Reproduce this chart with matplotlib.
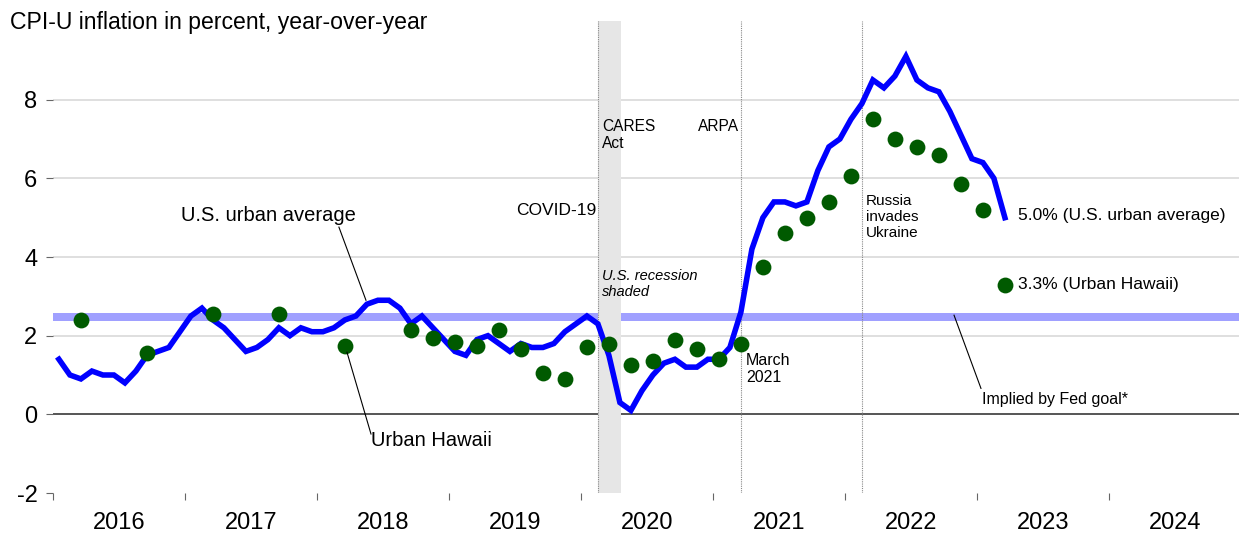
import matplotlib.pyplot as plt
import numpy as np

plt.rcParams['font.family'] = ['Liberation Sans', 'DejaVu Sans']

# U.S. urban average CPI-U, year-over-year %, monthly from Jan 2016 to Mar 2023
us_cpi = [1.4, 1.0, 0.9, 1.1, 1.0, 1.0, 0.8, 1.1, 1.5, 1.6, 1.7, 2.1,
          2.5, 2.7, 2.4, 2.2, 1.9, 1.6, 1.7, 1.9, 2.2, 2.0, 2.2, 2.1,
          2.1, 2.2, 2.4, 2.5, 2.8, 2.9, 2.9, 2.7, 2.3, 2.5, 2.2, 1.9,
          1.6, 1.5, 1.9, 2.0, 1.8, 1.6, 1.8, 1.7, 1.7, 1.8, 2.1, 2.3,
          2.5, 2.3, 1.5, 0.3, 0.1, 0.6, 1.0, 1.3, 1.4, 1.2, 1.2, 1.4,
          1.4, 1.7, 2.6, 4.2, 5.0, 5.4, 5.4, 5.3, 5.4, 6.2, 6.8, 7.0,
          7.5, 7.9, 8.5, 8.3, 8.6, 9.1, 8.5, 8.3, 8.2, 7.7, 7.1, 6.5,
          6.4, 6.0, 5.0]

# Urban Hawaii CPI-U, year-over-year %
hawaii_months = ['2016-03', '2016-09', '2017-03', '2017-09', '2018-03',
                 '2018-09', '2018-11', '2019-01', '2019-03', '2019-05',
                 '2019-07', '2019-09', '2019-11', '2020-01', '2020-03',
                 '2020-05', '2020-07', '2020-09', '2020-11', '2021-01',
                 '2021-03', '2021-05', '2021-07', '2021-09', '2021-11',
                 '2022-01', '2022-03', '2022-05', '2022-07', '2022-09',
                 '2022-11', '2023-01', '2023-03']
hawaii_cpi = [2.4, 1.55, 2.55, 2.55, 1.75,
              2.15, 1.95, 1.85, 1.75, 2.15,
              1.65, 1.05, 0.9, 1.7, 1.8,
              1.25, 1.35, 1.9, 1.65, 1.4,
              1.8, 3.75, 4.6, 5.0, 5.4,
              6.05, 7.5, 7.0, 6.8, 6.6,
              5.85, 5.2, 3.3]

years = list(range(2016, 2025))
fed_band = (2.38, 2.58)
recession = (2020.126, 2020.30)
events = [2020.126, 2021.209, 2022.126]

us_x = 2016 + (np.arange(len(us_cpi)) + 0.5) / 12
hi_x = [int(m[:4]) + (int(m[5:]) - 0.5) / 12 for m in hawaii_months]

fig = plt.figure(figsize=(12.39, 5.33), dpi=100)
ax = fig.add_axes([53.4 / 1239, 40 / 533, 1188 / 1239, 472 / 533])
ax.set_xlim(2016, 2025)
ax.set_ylim(-2, 10)

for y in [2, 4, 6, 8]:
    ax.axhline(y, color='#d9d9d9', lw=1.2, zorder=0)
ax.axhspan(*fed_band, color='#a0a0ff', lw=0, zorder=1)
ax.axhline(0, color='#555555', lw=1.4, zorder=1.5)
ax.axvspan(*recession, color='#e6e6e6', lw=0, zorder=2)
for x in events:
    ax.axvline(x, color='#888888', lw=0.8, ls=(0, (1, 1)), zorder=2.5)

ax.plot(us_x, us_cpi, color='#0000ff', lw=4.0, zorder=3, solid_joinstyle='miter')
ax.scatter(hi_x, hawaii_cpi, s=130, color='#005a00', lw=0, zorder=4)

for s in ax.spines.values():
    s.set_visible(False)

ax.set_yticks([-2, 0, 2, 4, 6, 8])
ax.set_yticklabels(['-2', '0', '2', '4', '6', '8'])
ax.tick_params(axis='y', length=5, width=0.8, color='#666666', pad=6.5, labelsize=17)
ax.set_xticks(years)
ax.set_xticklabels([])
ax.set_xticks([y + 0.5 for y in years], minor=True)
ax.set_xticklabels([str(y) for y in years], minor=True)
ax.tick_params(axis='x', which='major', length=5, width=0.8, color='#666666')
ax.tick_params(axis='x', which='minor', length=0, pad=14, labelsize=17)

fig.text(10 / 1239, 1 - 29.3 / 533, 'CPI-U inflation in percent, year-over-year',
         fontsize=16.6, va='baseline', ha='left')

# annotations
ax.text(2017.626, 5.06, 'U.S. urban average', fontsize=14.5, ha='center', va='center')
ax.plot([2018.163, 2018.368], [4.76, 2.90], color='black', lw=0.8, zorder=5)
ax.text(2018.405, -0.66, 'Urban Hawaii', fontsize=14.5, ha='left', va='center')
ax.plot([2018.224, 2018.406], [1.58, -0.50], color='black', lw=0.8, zorder=5)
ax.text(2023.035, 0.38, 'Implied by Fed goal*', fontsize=11.5, ha='left', va='center')
ax.plot([2022.823, 2023.027], [2.52, 0.66], color='black', lw=0.8, zorder=5)

ax.text(2020.11, 5.17, 'COVID-19', fontsize=12.5, ha='right', va='center')
ax.text(2020.156, 7.11, 'CARES\nAct', fontsize=11.2, ha='left', va='center', linespacing=1.15)
ax.text(2021.194, 7.33, 'ARPA', fontsize=11.2, ha='right', va='center')
ax.text(2020.156, 3.31, 'U.S. recession\nshaded', fontsize=10.5, style='italic',
        ha='left', va='center', linespacing=1.2)
ax.text(2022.155, 5.01, 'Russia\ninvades\nUkraine', fontsize=11, ha='left', va='center',
        linespacing=1.2)
ax.text(2021.247, 1.15, 'March\n2021', fontsize=11.5, ha='left', va='center', linespacing=1.15)
ax.text(2023.305, 5.06, '5.0% (U.S. urban average)', fontsize=12.5, ha='left', va='center')
ax.text(2023.305, 3.31, '3.3% (Urban Hawaii)', fontsize=12.5, ha='left', va='center')

fig.savefig('out.png', dpi=100)
